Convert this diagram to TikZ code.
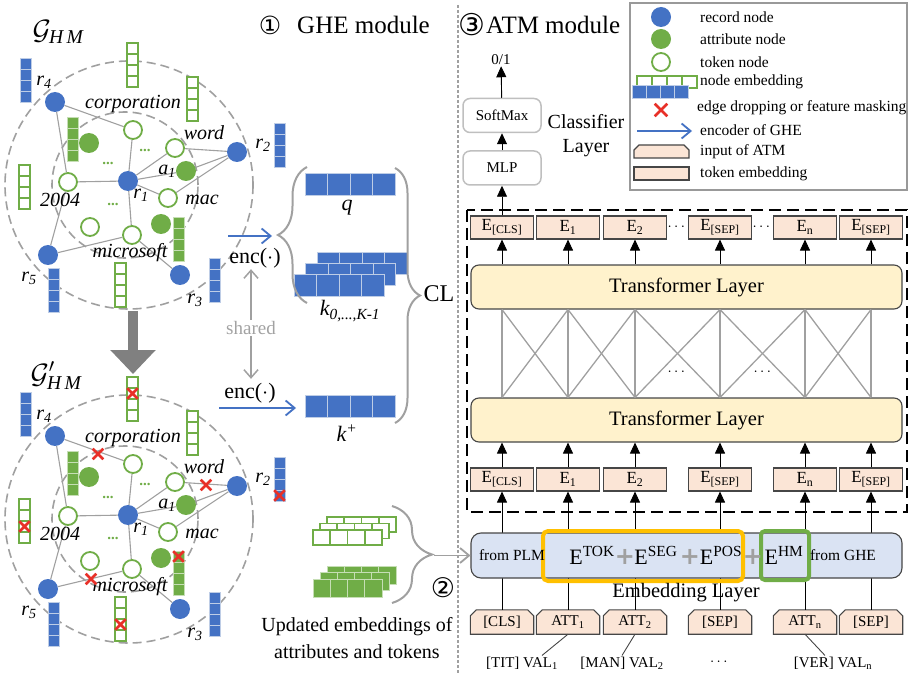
\RequirePackage{fix-cm}
\documentclass[tikz,border=0pt]{standalone}
\usepackage{amsmath}
\usepackage{fontspec}
\setmainfont{Liberation Serif}
\newfontfamily\circfont{DejaVu Sans}
\usetikzlibrary{arrows.meta,shapes.misc,decorations.pathreplacing,backgrounds,positioning}
\definecolor{hmblue}{RGB}{68,114,196}
\definecolor{hmgreen}{RGB}{112,173,71}
\definecolor{hmred}{RGB}{232,48,40}
\definecolor{hmpeach}{RGB}{251,229,214}
\definecolor{hmyellow}{RGB}{255,242,204}
\definecolor{hmlblue}{RGB}{218,227,243}
\definecolor{hmorange}{RGB}{255,192,0}
\definecolor{linegray}{RGB}{160,160,160}
\definecolor{darkline}{RGB}{70,70,70}
\definecolor{boxgray}{RGB}{191,191,191}
\definecolor{cellline}{RGB}{190,205,230}

\newcommand{\embcol}[3]{\foreach \k in {0,...,3} \draw[#3] (#1,{#2+11*\k}) rectangle ++(11,11);}
\newcommand{\embrow}[5]{\foreach \k in {0,...,3} \draw[#5] ({#1+#3*\k},#2) rectangle ++(#3,#4);}
\newcommand{\recl}[1]{\textit{r}\textsubscript{\textit{#1}}}

\newcommand{\hmgraph}[1]{%
  \draw[ring] (129,185) circle[radius=124pt];
  \draw[ring] (125,185) circle[radius=73pt];
  \node[rec] (#1r1) at (128,181) {};
  \node[rec] (#1r2) at (237,152) {};
  \node[rec] (#1r3) at (180,275) {};
  \node[rec] (#1r4) at (55,102) {};
  \node[rec] (#1r5) at (48,255) {};
  \node[tok] (#1corp) at (133,130) {};
  \node[tok] (#1word) at (175,148) {};
  \node[tok] (#1year) at (68,182) {};
  \node[tok] (#1mac) at (168,198) {};
  \node[tok] (#1tk) at (90,227) {};
  \node[tok] (#1ms) at (132,235) {};
  \node[att] (#1at) at (89,143) {};
  \node[att] (#1a1) at (186,171) {};
  \node[att] (#1ab) at (161,224) {};
  \begin{scope}[on background layer]
    \foreach \u/\v in {r4/corp,r4/year,r1/corp,r1/year,r1/word,r1/a1,r1/mac,r1/ms,word/r2,a1/r2,mac/r2,year/r5,r5/ms,ms/r3}
      \draw[gedge] (#1\u) -- (#1\v);
  \end{scope}
  \embcol{20}{58}{bcell}
  \embcol{127}{43}{gocell}
  \embcol{187}{77}{gocell}
  \embcol{67}{117}{gfcell}
  \embcol{274}{123}{bcell}
  \embcol{19}{165}{gocell}
  \embcol{173}{217}{gfcell}
  \embcol{48}{268}{bcell}
  \embcol{115}{263}{gocell}
  \embcol{209}{258}{bcell}
  \node[gdots] (#1d1) at (145,150) {...};
  \node[gdots] (#1d2) at (108,163) {...};
  \node[gdots] (#1d3) at (113,204) {...};
  \node[glab] (#1lr4) at (44,82) {\recl{4}};
  \node[glab] (#1lr2) at (263,145) {\recl{2}};
  \node[glab] (#1lr1) at (141,195) {\recl{1}};
  \node[glab] (#1lr5) at (29,278) {\recl{5}};
  \node[glab] (#1lr3) at (195,300) {\recl{3}};
  \node[glab] (#1la1) at (167,171) {a\textsubscript{1}};
  \node[glab] (#1lcorp) at (133,104) {corporation};
  \node[glab] (#1lword) at (204,133) {word};
  \node[glab] (#1lyear) at (60,200) {2004};
  \node[glab] (#1lmac) at (202,200) {mac};
  \node[glab] (#1lms) at (130,253) {microsoft};
}

\begin{document}
\begin{tikzpicture}[x=1pt,y=-1pt]
\tikzstyle{ring}=[draw=linegray, line width=1.6pt, dash pattern=on 9pt off 5pt];
\tikzstyle{gedge}=[draw=linegray, line width=1.1pt];
\tikzstyle{rec}=[circle, fill=hmblue, minimum size=20pt, inner sep=0pt];
\tikzstyle{att}=[circle, fill=hmgreen, minimum size=20pt, inner sep=0pt];
\tikzstyle{tok}=[circle, draw=hmgreen, fill=white, line width=1.8pt, minimum size=18pt, inner sep=0pt];
\tikzstyle{glab}=[inner sep=1pt, font={\fontsize{20}{24}\selectfont\itshape}];
\tikzstyle{glabel}=[inner sep=1pt, font={\fontsize{28}{28}\selectfont}];
\tikzstyle{gdots}=[inner sep=0pt, text=hmgreen, font={\fontsize{15}{15}\selectfont\bfseries}];
\tikzstyle{bcell}=[fill=hmblue, draw=cellline, line width=0.8pt];
\tikzstyle{gocell}=[fill=white, draw=hmgreen, line width=1.6pt];
\tikzstyle{gfcell}=[fill=hmgreen, draw=hmgreen!40, line width=0.8pt];
\tikzstyle{redx}=[cross out, draw=hmred, line width=2.6pt, minimum size=8pt, inner sep=0pt];
\tikzstyle{bigarrow}=[draw=gray, line width=10pt, -{Triangle[width=44pt,length=24pt]}];
\tikzstyle{encarrow}=[draw=hmblue, line width=1.8pt, -{Straight Barb[length=9pt,width=15pt]}];
\tikzstyle{grayarrow}=[draw=linegray, line width=1.8pt, -{Straight Barb[length=9pt,width=15pt]}];
\tikzstyle{sharearrow}=[draw=linegray, line width=1.5pt, -{Straight Barb[length=8pt,width=14pt]}];
\tikzstyle{gbrace}=[draw=linegray, line width=2pt, decorate];
\tikzstyle{enctext}=[inner sep=1pt, font={\fontsize{22}{22}\selectfont}];
\tikzstyle{sharedtext}=[inner sep=1pt, text=boxgray!85!black, font={\fontsize{19}{19}\selectfont}];
\tikzstyle{titletext}=[inner sep=0pt, font={\fontsize{25}{25}\selectfont}];
\tikzstyle{sepline}=[draw=linegray, line width=2pt, dash pattern=on 3pt off 2pt];
\tikzstyle{ebox}=[draw=darkline, fill=hmpeach, line width=1.1pt, minimum width=63pt, minimum height=23pt, inner sep=0pt, font={\fontsize{17}{17}\selectfont}];
\tikzstyle{inbox}=[minimum width=63pt, minimum height=24pt, inner sep=0pt, font={\fontsize{15}{15}\selectfont}];
\tikzstyle{inshape}=[draw=darkline, fill=hmpeach, line width=1.1pt];
\tikzstyle{tlayer}=[draw=darkline, fill=hmyellow, rounded corners=8pt, line width=1.1pt, minimum width=431pt, minimum height=44pt, font={\fontsize{20.5}{24}\selectfont}];
\tikzstyle{xline}=[draw=linegray, line width=1.3pt];
\tikzstyle{uparrow}=[draw=black, line width=0.9pt, -{Triangle[width=10pt,length=11pt]}];
\tikzstyle{dashbox}=[draw=black, line width=2pt, dash pattern=on 12pt off 6pt];
\tikzstyle{clsbox}=[draw=boxgray, fill=white, rounded corners=7pt, line width=1.5pt, minimum width=78pt, minimum height=34pt, font={\fontsize{15}{15}\selectfont}];
\tikzstyle{elayer}=[draw=darkline, fill=hmlblue, rounded corners=10pt, line width=1.1pt, minimum width=431pt, minimum height=45pt];
\tikzstyle{etext}=[inner sep=0pt, font={\fontsize{15.5}{15.5}\selectfont}];
\tikzstyle{esym}=[inner sep=0pt, font={\fontsize{22}{22}\selectfont}];
\tikzstyle{plus}=[inner sep=0pt, text=linegray, font={\circfont\bfseries\fontsize{24}{24}\selectfont}];
\tikzstyle{obox}=[draw=hmorange, line width=4pt, rounded corners=5pt, minimum width=200pt, minimum height=50pt];
\tikzstyle{gbox}=[draw=hmgreen, line width=4pt, rounded corners=4pt, minimum width=48pt, minimum height=49pt];
\tikzstyle{legbox}=[draw=boxgray!80!black, fill=white, line width=1.3pt];
\tikzstyle{legtext}=[anchor=west, inner sep=0pt, font={\fontsize{15.5}{15.5}\selectfont}];
\tikzstyle{bigtext}=[inner sep=1pt, font={\fontsize{20}{24}\selectfont}];
\tikzstyle{smalltext}=[inner sep=1pt, font={\fontsize{15}{15}\selectfont}];

\useasboundingbox (0,0) rectangle (914,674);

% graph and augmented graph
\hmgraph{g}
\begin{scope}[shift={(0,334)}]
\hmgraph{h}
\foreach \p [count=\n] in {(132.5,59.5),(98,120),(206,151),(279.5,161.5),(24.5,192.5),(178.5,222.5),(91,245),(120.5,290.5)}
  \node[redx] (hx\n) at \p {};
\end{scope}
\node[glabel] (ghm) at (58,32) {$\mathcal{G}_{\mathit{H\,M}}$};
\node[glabel] (ghmb) at (56,376) {$\mathcal{G}'_{\mathit{H\,M}}$};
\coordinate (ba1) at (133,311);
\coordinate (ba2) at (133,374);
\draw[bigarrow] (ba1) -- (ba2);

% contrastive part
\embrow{305}{173}{22.5}{22}{bcell}
\embrow{317}{252}{22.5}{22}{bcell}
\embrow{305.5}{263}{22.5}{22}{bcell}
\embrow{294}{274}{22.5}{22}{bcell}
\embrow{305}{395}{22.5}{22}{bcell}
\node[glab, font={\fontsize{22}{22}\selectfont\itshape}] (qlab) at (347,208) {q};
\node[glab, font={\fontsize{22}{22}\selectfont\itshape}] (klab) at (350,311) {k\textsubscript{0,...,K-1}};
\node[glab, font={\fontsize{22}{22}\selectfont\itshape}] (kplab) at (347,433) {k\textsuperscript{+}};
\draw[gbrace, decoration={brace,amplitude=29pt}] (307,303) -- (307,167);
\draw[gbrace, decoration={brace,amplitude=25pt}] (395,168) -- (395,423);
\node[titletext, font={\fontsize{24}{24}\selectfont}] (cl) at (439,294) {CL};
\node[enctext] (enc1) at (255,258) {enc($\cdot$)};
\node[enctext] (enc2) at (250,393) {enc($\cdot$)};
\node[sharedtext] (shared) at (251,328) {shared};
\draw[sharearrow] (shared.north) -- (shared.north |- enc1.south);
\draw[sharearrow] (shared.south) -- ([yshift=3pt]shared.south |- enc2.north);
\coordinate (ea1) at (228,236);
\coordinate (ea2) at (272,236);
\draw[encarrow] (ea1) -- (ea2);
\coordinate (eb1) at (219,408);
\coordinate (eb2) at (296,408);
\draw[encarrow] (eb1) -- (eb2);

% titles
\node[titletext, font={\circfont\fontsize{25}{25}\selectfont}] (c1) at (270,25) {①};
\node[titletext, anchor=west] (ghe) at (297,25) {GHE module};
\node[titletext, font={\circfont\fontsize{30}{30}\selectfont}] (c3) at (472,25) {③};
\node[titletext, anchor=west] (atm) at (486,25) {ATM module};
\draw[sepline] (458,5) -- (458,674);

% ATM encoder
\foreach \x/\s [count=\i] in {502/{[CLS]},568/1,635/2,720/{[SEP]},805/n,871/{[SEP]}} {
  \node[ebox] (t\i) at (\x,227.5) {E\textsubscript{\s}};
  \node[ebox] (b\i) at (\x,479.5) {E\textsubscript{\s}};
}
\foreach \x/\s [count=\i] in {502/{[CLS]},568/{ATT\textsubscript{1}},635/{ATT\textsubscript{2}},720/{[SEP]},805/{ATT\textsubscript{n}},871/{[SEP]}}
  \node[inbox] (i\i) at (\x,622) {\s};
\begin{scope}[on background layer]
\foreach \i in {1,...,6}
  \draw[inshape] (i\i.south west) -- ([yshift=-6pt]i\i.north west) -- ([xshift=6pt]i\i.north west)
    -- ([xshift=-6pt]i\i.north east) -- ([yshift=-6pt]i\i.north east) -- (i\i.south east) -- cycle;
\end{scope}
\node[tlayer] (tl1) at (686.5,420) {Transformer Layer};
\node[tlayer] (tl2) at (686.5,287) {Transformer Layer};
\foreach \i in {1,...,6} {
  \draw[uparrow] (b\i) -- (b\i |- tl1.south);
  \draw[uparrow] (tl2.north -| t\i) -- (t\i);
  \draw[uparrow] (i\i) -- (b\i);
  \draw[xline] (tl1.north -| b\i) -- (tl2.south -| b\i);
}
\foreach \i/\j in {1/2,2/3,3/4,4/5,5/6} {
  \draw[xline] (tl1.north -| b\i) -- (tl2.south -| b\j);
  \draw[xline] (tl2.south -| b\i) -- (tl1.north -| b\j);
}
\node[smalltext] (dt1) at (677.5,227) {$\cdots$};
\node[smalltext] (dt2) at (762.5,227) {$\cdots$};
\node[smalltext] (dm1) at (677.5,372) {$\cdots$};
\node[smalltext] (dm2) at (763.5,372) {$\cdots$};
\draw[dashbox] (467,210) rectangle (907,512);

% classifier
\node[clsbox] (mlp) at (502,168) {MLP};
\node[clsbox] (smax) at (502,115.5) {SoftMax};
\node[smalltext] (out) at (501,60) {0/1};
\draw[uparrow] (t1) -- (mlp);
\draw[uparrow] (mlp) -- (smax);
\draw[uparrow] (smax) -- (out);
\node[bigtext, align=center] (clsl) at (586,136) {Classifier\\Layer};

% embedding layer
\node[elayer] (el) at (686.5,555.5) {};
\node[obox] (ob) at (643,556) {};
\node[gbox] (gb) at (785,555.5) {};
\node[etext] (fplm) at (512,555) {from PLM};
\node[esym] (etok) at (592,555) {E\textsuperscript{TOK}};
\node[plus] (p1) at (625,557) {+};
\node[esym] (eseg) at (656,555) {E\textsuperscript{SEG}};
\node[plus] (p2) at (690,557) {+};
\node[esym] (epos) at (721,555) {E\textsuperscript{POS}};
\node[plus] (p3) at (753,557) {+};
\node[esym] (ehm) at (784,555) {E\textsuperscript{HM}};
\node[etext] (fghe) at (843,555) {from GHE};
\node[bigtext, font={\fontsize{20.5}{24}\selectfont}] (ellab) at (686,593) {Embedding Layer};
\node[smalltext] (v1) at (522,663) {[TIT] VAL\textsubscript{1}};
\node[smalltext] (v2) at (622,663) {[MAN] VAL\textsubscript{2}};
\node[smalltext] (vd) at (720,662) {$\cdots$};
\node[smalltext] (vn) at (833,663) {[VER] VAL\textsubscript{n}};
\draw[darkline, line width=0.9pt] (i2.south) -- ([xshift=20pt]v1.north);
\draw[darkline, line width=0.9pt] (i3.south) -- (v2.north);
\draw[darkline, line width=0.9pt] (i5.south) -- ([xshift=-8pt]vn.north);

% updated embeddings
\embrow{327}{517}{17.25}{15}{gocell}
\embrow{320}{523.5}{17.25}{15}{gocell}
\embrow{313}{530}{17.25}{15}{gocell}
\embrow{327}{566}{17.25}{18}{gfcell}
\embrow{320}{572.5}{17.25}{18}{gfcell}
\embrow{313}{579}{17.25}{18}{gfcell}
\draw[gbrace, decoration={brace,amplitude=40pt}] (392,506) -- (392,603);
\coordinate (ub) at (434,555.5);
\draw[grayarrow] (ub) -- (el.west);
\node[titletext, font={\circfont\fontsize{27}{27}\selectfont}] (c2) at (443,588) {②};
\node[bigtext, align=center, font={\fontsize{20}{27}\selectfont}] (upd) at (357,638) {Updated embeddings of\\attributes and tokens};

% legend
\draw[legbox] (630,3) rectangle (907,190);
\node[rec] (lrec) at (661,17) {};
\node[att] (latt) at (661,39) {};
\node[tok] (ltok) at (661,62) {};
\embrow{637}{76}{15}{12}{gocell}
\embrow{632}{85}{14}{13}{bcell}
\node[redx, minimum size=10pt] (lx) at (661,110) {};
\coordinate (la1) at (637,131);
\coordinate (la2) at (692,131);
\draw[encarrow] (la1) -- (la2);
\draw[inshape] (634,158) -- (634,150) -- (639,145) -- (684,145) -- (689,150) -- (689,158) -- cycle;
\draw[inshape] (634,167) rectangle (689,180);
\foreach \y/\t [count=\n] in {17/record node,39/attribute node,62/token node,82/node embedding,130/encoder of GHE,152/input of ATM,174/token embedding}
  \node[legtext] (lt\n) at (700,\y) {\t};
\node[legtext] (ltx) at (697,108) {edge dropping or feature masking};
\end{tikzpicture}
\end{document}
